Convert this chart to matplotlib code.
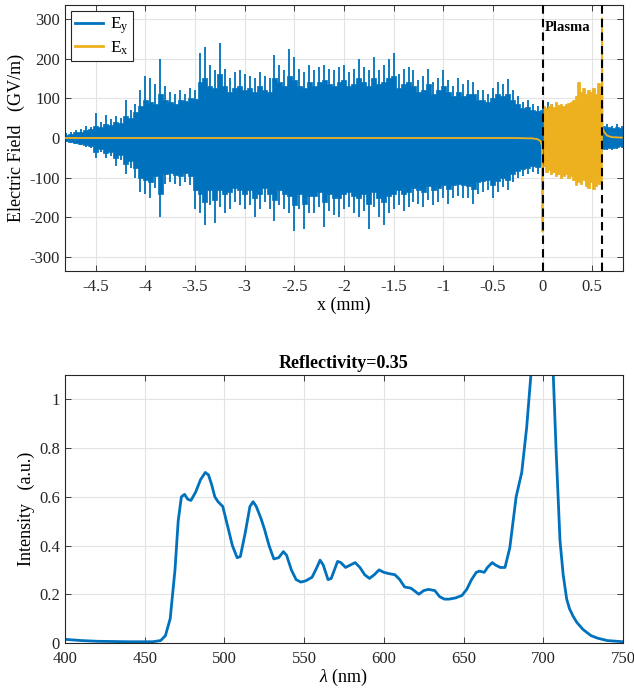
import numpy as np
import matplotlib
matplotlib.use('Agg')
import matplotlib.pyplot as plt
from matplotlib.lines import Line2D

plt.rcParams['font.family'] = ['Liberation Serif', 'DejaVu Serif']
plt.rcParams['mathtext.fontset'] = 'custom'
plt.rcParams['mathtext.rm'] = 'Liberation Serif'
plt.rcParams['mathtext.it'] = 'Liberation Serif:italic'
plt.rcParams['axes.unicode_minus'] = False

BLUE = '#0072BD'
YELLOW = '#EDB120'

# ---- top panel: field envelopes (GV/m) ----
# Ey narrow spike peaks, one every 0.05 mm from -4.80 to 0.80
ey_up = [12, 14, 20, 22, 30, 28, 62, 40, 58, 48,
         55, 50, 95, 70, 85, 120, 155, 150, 135, 198,
         130, 115, 110, 120, 112, 125, 120, 215, 230, 185,
         170, 240, 175, 150, 165, 170, 160, 155, 150, 165,
         155, 150, 210, 185, 170, 225, 205, 175, 165, 185,
         170, 180, 185, 175, 170, 180, 185, 165, 175, 200,
         180, 170, 205, 170, 185, 200, 215, 160, 175, 180,
         170, 145, 155, 175, 140, 150, 170, 145, 130, 150,
         135, 145, 140, 120, 120, 110, 125, 140, 135, 148,
         120, 105, 90, 95, 85, 80, 85, 90, 85, 80,
         75, 70, 70, 70, 70, 70, 65, 60, 40, 35,
         30, 35, 30]
ey_lo = [-10, -12, -15, -18, -22, -25, -50, -35, -50, -45,
         -70, -55, -90, -75, -100, -135, -140, -150, -125, -200,
         -115, -110, -115, -120, -110, -118, -180, -190, -220, -170,
         -215, -175, -190, -180, -160, -170, -180, -170, -200, -180,
         -160, -180, -210, -170, -180, -190, -235, -180, -230, -190,
         -190, -175, -225, -185, -195, -200, -180, -175, -190, -200,
         -185, -229, -175, -200, -219, -190, -180, -170, -185, -175,
         -160, -165, -173, -155, -170, -160, -150, -165, -150, -145,
         -150, -151, -165, -140, -136, -130, -150, -135, -123, -130,
         -110, -100, -95, -90, -85, -90, -85, -80, -80, -75,
         -75, -70, -70, -70, -70, -70, -65, -60, -35, -30,
         -30, -28, -25]
# dense body of Ey at the same positions
body_up = [8, 10, 14, 16, 20, 22, 30, 28, 35, 32,
           40, 38, 55, 50, 65, 80, 95, 90, 85, 110,
           95, 90, 85, 95, 92, 100, 98, 140, 150, 130,
           125, 160, 130, 115, 125, 130, 120, 125, 115, 130,
           120, 115, 150, 140, 130, 155, 145, 130, 125, 140,
           130, 140, 145, 135, 130, 140, 145, 130, 135, 150,
           140, 130, 150, 135, 140, 150, 155, 125, 135, 140,
           130, 115, 120, 135, 110, 120, 130, 115, 105, 115,
           105, 110, 110, 95, 95, 90, 100, 110, 105, 110,
           95, 85, 75, 78, 70, 68, 70, 75, 70, 65,
           60, 58, 58, 58, 58, 58, 55, 50, 30, 28,
           25, 28, 25]
body_lo = [-8, -10, -12, -15, -18, -20, -35, -28, -38, -35,
           -50, -42, -65, -58, -75, -100, -105, -110, -95, -140,
           -90, -88, -92, -95, -88, -95, -130, -140, -160, -130,
           -155, -130, -140, -135, -125, -130, -140, -130, -150, -140,
           -125, -140, -155, -130, -140, -145, -170, -140, -165, -145,
           -145, -135, -160, -140, -150, -150, -140, -135, -145, -150,
           -140, -165, -135, -150, -160, -145, -140, -130, -140, -135,
           -125, -130, -135, -120, -130, -125, -118, -128, -118, -115,
           -118, -120, -128, -110, -108, -105, -118, -108, -100, -105,
           -90, -82, -78, -75, -70, -72, -70, -65, -65, -60,
           -60, -56, -56, -56, -56, -56, -52, -48, -28, -25,
           -25, -22, -20]
ey_x = np.round(np.arange(len(ey_up)) * 0.05 - 4.8, 3)

# Ex in vacuum before the plasma
exv_x = [-4.8, -0.3, -0.1, -0.05, -0.02, -0.005, 0.0, 0.002]
exv_y = [0, 0, -1, -3, -8, -20, -236, -70]
# Ex inside the plasma, every 0.025 mm from 0 to 0.575
ex_up = [80, 75, 80, 85, 78, 90, 82, 85, 80, 85, 88, 90,
         95, 105, 140, 115, 125, 110, 120, 115, 125, 110, 138, 115]
ex_lo = [-70, -85, -80, -90, -85, -95, -90, -100, -95, -90, -100, -95,
         -105, -118, -110, -115, -105, -120, -125, -110, -128, -120, -115, -110]
ex_px = np.round(np.arange(len(ex_up)) * 0.025 + 0.0125, 4)
# Ex after the plasma
ext_x = [0.597, 0.6, 0.605, 0.62, 0.65, 0.7, 0.8]
ext_y = [-126, 302, 25, 15, 6, 2, 1]

plasma_edges = [0.0, 0.6]

# ---- bottom panel: reflected spectrum ----
lam = [400, 410, 420, 440, 455, 460, 463, 466, 469, 471, 473, 475, 477, 479,
       482, 485, 488, 490, 492, 494, 496, 499, 502, 505, 508, 510, 513, 516,
       518, 520, 523, 525, 528, 531, 534, 537, 539, 542, 545, 548, 551, 555,
       558, 560, 562, 565, 567, 569, 571, 573, 576, 579, 582, 585, 588, 591,
       594, 597, 600, 603, 607, 610, 613, 617, 620, 622, 625, 628, 632, 635,
       638, 641, 645, 649, 652, 655, 658, 660, 663, 665, 668, 670, 673, 676,
       679, 683, 686.5, 689.6, 692, 695, 700, 704, 706, 708, 710.5, 712.5,
       714.7, 716.5, 718.7, 721, 725, 730, 734, 740, 750]
inten = [0.015, 0.01, 0.007, 0.005, 0.005, 0.01, 0.03, 0.1, 0.3, 0.5, 0.6,
         0.61, 0.59, 0.585, 0.62, 0.67, 0.70, 0.69, 0.65, 0.60, 0.58, 0.56,
         0.48, 0.40, 0.35, 0.355, 0.45, 0.56, 0.58, 0.56, 0.51, 0.47, 0.40,
         0.345, 0.35, 0.375, 0.36, 0.30, 0.26, 0.25, 0.255, 0.27, 0.31, 0.34,
         0.32, 0.26, 0.265, 0.30, 0.335, 0.33, 0.31, 0.32, 0.33, 0.31, 0.28,
         0.265, 0.28, 0.30, 0.29, 0.285, 0.28, 0.26, 0.23, 0.225, 0.21, 0.20,
         0.215, 0.22, 0.215, 0.19, 0.18, 0.18, 0.185, 0.195, 0.22, 0.26, 0.29,
         0.295, 0.29, 0.31, 0.33, 0.32, 0.31, 0.31, 0.39, 0.60, 0.70, 0.885,
         1.08, 1.35, 1.6, 1.45, 1.15, 0.8, 0.42, 0.28, 0.18, 0.14, 0.11, 0.085,
         0.055, 0.03, 0.02, 0.01, 0.005]


def style(ax):
    ax.tick_params(direction='in', top=True, right=True, labelsize=12,
                   length=4, width=0.6, colors='#262626')
    ax.tick_params(axis='x', pad=6)
    for s in ax.spines.values():
        s.set_linewidth(0.8)
        s.set_color('#262626')
    ax.grid(True, color='#e3e3e3', linewidth=0.8)
    ax.set_axisbelow(True)


fig = plt.figure(figsize=(6.34, 6.91), dpi=100)

ax1 = fig.add_axes([0.1025, 0.6078, 0.8801, 0.385])
# Ey: dense body as blocks, narrow spikes on top
ax1.fill_between(ey_x, body_lo, body_up, step='mid', color=BLUE,
                 linewidth=0.5, edgecolor=BLUE, zorder=2)
ax1.vlines(ey_x, ey_lo, ey_up, color=BLUE, linewidth=1.3, zorder=2)

# Ex: smooth in vacuum, dense oscillation inside the plasma
ax1.fill_between(ex_px, ex_lo, ex_up, step='mid', color=YELLOW,
                 linewidth=0.5, edgecolor=YELLOW, zorder=3)
ax1.vlines(ex_px, ex_lo, ex_up, color=YELLOW, linewidth=1.0, zorder=3)
ax1.plot(exv_x, exv_y, color=YELLOW, linewidth=1.3, zorder=3)
ax1.plot(ext_x, ext_y, color=YELLOW, linewidth=1.3, zorder=3)

for xe in plasma_edges:
    ax1.axvline(xe, color='black', linestyle=(0, (4, 2.5)), linewidth=1.5,
                zorder=4)
ax1.text(0.025, 278, 'Plasma', fontsize=10.5, fontweight='bold', va='center',
         zorder=5)
ax1.set_xlim(-4.81, 0.81)
ax1.set_ylim(-335, 335)
ax1.set_xticks(np.arange(-4.5, 0.51, 0.5))
ax1.set_xticklabels(['-4.5', '-4', '-3.5', '-3', '-2.5', '-2', '-1.5', '-1',
                     '-0.5', '0', '0.5'])
ax1.set_yticks(np.arange(-300, 301, 100))
ax1.set_xlabel('x (mm)', fontsize=13, labelpad=1)
ax1.set_ylabel('Electric Field   (GV/m)', fontsize=13, labelpad=3)
style(ax1)
handles = [Line2D([], [], color=BLUE, linewidth=2),
           Line2D([], [], color=YELLOW, linewidth=2)]
leg = ax1.legend(handles, ['E$_\\mathrm{y}$', 'E$_\\mathrm{x}$'],
                 loc='upper left', fontsize=12.5, fancybox=False,
                 edgecolor='#262626', framealpha=1, borderaxespad=0.35,
                 handlelength=1.6, handletextpad=0.4, labelspacing=0.2,
                 borderpad=0.25)
leg.get_frame().set_linewidth(0.8)
leg.set_zorder(6)

ax2 = fig.add_axes([0.1025, 0.0695, 0.8801, 0.3878])
ax2.plot(lam, inten, color=BLUE, linewidth=2.0)
ax2.set_xlim(400, 750)
ax2.set_ylim(0, 1.1)
ax2.set_yticks([0, 0.2, 0.4, 0.6, 0.8, 1])
ax2.set_yticklabels(['0', '0.2', '0.4', '0.6', '0.8', '1'])
ax2.set_xlabel('$\\lambda$ (nm)', fontsize=13, labelpad=0)
ax2.set_ylabel('Intensity   (a.u.)', fontsize=13, labelpad=3)
ax2.set_title('Reflectivity=0.35', fontsize=13, fontweight='bold', pad=5)
style(ax2)

fig.savefig('out.png', dpi=100)
